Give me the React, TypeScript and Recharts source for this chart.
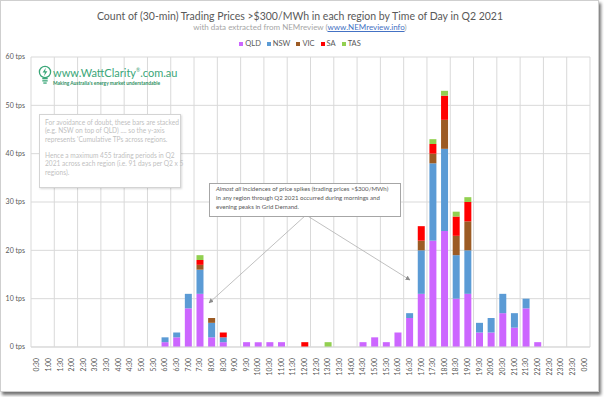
import React from "react";
import { BarChart, Bar, XAxis, YAxis, CartesianGrid, Legend } from "recharts";

const times = [
  "0:30", "1:00", "1:30", "2:00", "2:30", "3:00", "3:30", "4:00", "4:30", "5:00", "5:30", "6:00",
  "6:30", "7:00", "7:30", "8:00", "8:30", "9:00", "9:30", "10:00", "10:30", "11:00", "11:30", "12:00",
  "12:30", "13:00", "13:30", "14:00", "14:30", "15:00", "15:30", "16:00", "16:30", "17:00", "17:30", "18:00",
  "18:30", "19:00", "19:30", "20:00", "20:30", "21:00", "21:30", "22:00", "22:30", "23:00", "23:30", "0:00",
];

const qld = [
  0, 0, 0, 0, 0, 0, 0, 0, 0, 0, 0, 1,
  2, 8, 11, 2, 1, 0, 1, 1, 1, 1, 0, 0,
  0, 0, 0, 0, 1, 2, 1, 3, 6, 11, 22, 24,
  10, 11, 3, 3, 7, 4, 8, 1, 0, 0, 0, 0,
];
const nsw = [
  0, 0, 0, 0, 0, 0, 0, 0, 0, 0, 0, 1,
  1, 3, 5, 3, 1, 0, 0, 0, 0, 0, 0, 0,
  0, 0, 0, 0, 0, 0, 0, 0, 1, 9, 16, 17,
  9, 9, 2, 3, 4, 3, 2, 0, 0, 0, 0, 0,
];
const vic = [
  0, 0, 0, 0, 0, 0, 0, 0, 0, 0, 0, 0,
  0, 0, 1, 1, 0, 0, 0, 0, 0, 0, 0, 0,
  0, 0, 0, 0, 0, 0, 0, 0, 0, 2, 2, 6,
  4, 6, 0, 0, 0, 0, 0, 0, 0, 0, 0, 0,
];
const sa = [
  0, 0, 0, 0, 0, 0, 0, 0, 0, 0, 0, 0,
  0, 0, 1, 0, 1, 0, 0, 0, 0, 0, 0, 1,
  0, 0, 0, 0, 0, 0, 0, 0, 0, 3, 2, 5,
  4, 4, 0, 0, 0, 0, 0, 0, 0, 0, 0, 0,
];
const tas = [
  0, 0, 0, 0, 0, 0, 0, 0, 0, 0, 0, 0,
  0, 0, 1, 0, 0, 0, 0, 0, 0, 0, 0, 0,
  0, 1, 0, 0, 0, 0, 0, 0, 0, 0, 1, 1,
  1, 1, 0, 0, 0, 0, 0, 0, 0, 0, 0, 0,
];

const regions = ["QLD", "NSW", "VIC", "SA", "TAS"];
const colors = ["#cc66ff", "#5b9bd5", "#9c5b24", "#ff0000", "#92d050"];
const yTicks = [0, 10, 20, 30, 40, 50, 60];

const series = [qld, nsw, vic, sa, tas];
const data = times.map((t, i) => {
  const row: Record<string, string | number> = { time: t };
  regions.forEach((r, k) => (row[r] = series[k][i]));
  return row;
});

const font = "Lato, 'Open Sans', sans-serif";
const GRID = "#d9d9d9";

const TimeTick = ({ x, y, payload }: any) => (
  <text
    transform={`translate(${x},${y + 3}) rotate(-90)`}
    textAnchor="end"
    dy="0.35em"
    fontSize={6.8}
    fill="#595959"
    fontFamily={font}
  >
    {payload.value}
  </text>
);

const TpsTick = ({ x, y, payload }: any) => (
  <text x={x} y={y} dy="0.35em" textAnchor="end" fontSize={7} fill="#595959" fontFamily={font}>
    {payload.value} tps
  </text>
);

// keep the legend in series order (QLD first), not alphabetical
const renderLegend = (props: any) => {
  const items = [...props.payload].sort(
    (a: any, b: any) => regions.indexOf(a.value) - regions.indexOf(b.value)
  );
  return (
    <div
      style={{
        display: "flex",
        justifyContent: "center",
        gap: 6,
        fontSize: 7.5,
        color: "#595959",
        fontFamily: font,
        lineHeight: "10px",
      }}
    >
      {items.map((item: any) => (
        <span key={item.value} style={{ display: "flex", alignItems: "center" }}>
          <span style={{ width: 4, height: 4, background: item.color, marginRight: 2 }} />
          {item.value}
        </span>
      ))}
    </div>
  );
};

const Bulb = () => (
  <svg width={14} height={20} style={{ position: "absolute", left: 37, top: 64 }}>
    <circle cx={7} cy={7} r={5.6} fill="none" stroke="#3aa678" strokeWidth={1.3} />
    <polygon points="7.8,2.8 4.6,7.6 6.9,7.6 6.0,11.2 9.4,6.2 7.1,6.2" fill="#3aa678" />
    <rect x={4.3} y={13} width={5.4} height={1.3} fill="#3aa678" />
    <rect x={4.3} y={15.2} width={5.4} height={1.3} fill="#3aa678" />
    <rect x={5.3} y={17.4} width={3.4} height={1.3} fill="#3aa678" />
  </svg>
);

export default function App() {
  return (
    <div
      style={{
        position: "absolute",
        left: 0,
        top: 0,
        width: 597,
        height: 390,
        background: "#fff",
        border: "1px solid #cfcfcf",
        boxShadow: "2px 3px 3px rgba(0,0,0,0.55)",
        fontFamily: font,
      }}
    >
      <div
        style={{
          position: "absolute",
          top: 8,
          left: 0,
          width: 598,
          textAlign: "center",
          fontSize: 10.5,
          lineHeight: "14px",
          color: "#595959",
        }}
      >
        Count of (30-min) Trading Prices &gt;$300/MWh in each region by Time of Day in Q2 2021
      </div>
      <div
        style={{
          position: "absolute",
          top: 21,
          left: 0,
          width: 598,
          textAlign: "center",
          fontSize: 8,
          lineHeight: "10px",
          color: "#a6a6a6",
        }}
      >
        with data extracted from NEMreview (
        <span style={{ color: "#4472c4", textDecoration: "underline" }}>www.NEMreview.info</span>)
      </div>

      <BarChart
        width={598}
        height={392}
        data={data}
        margin={{ top: 56, right: 9, left: 0, bottom: 0 }}
        barCategoryGap="21%"
      >
        <CartesianGrid
          stroke={GRID}
          verticalCoordinatesGenerator={({ offset }: any) =>
            Array.from({ length: 25 }, (_, k) => offset.left + (k * offset.width) / 24)
          }
        />
        <XAxis
          dataKey="time"
          interval={0}
          height={46}
          tick={<TimeTick />}
          tickLine={false}
          axisLine={{ stroke: GRID }}
        />
        <YAxis
          width={30}
          domain={[0, 60]}
          ticks={yTicks}
          tick={<TpsTick />}
          tickLine={false}
          axisLine={false}
          tickSize={0}
          tickMargin={6}
        />
        <Legend
          layout="horizontal"
          verticalAlign="middle"
          align="center"
          content={renderLegend}
          wrapperStyle={{ top: 38, left: 0, width: 598 }}
        />
        {regions.map((r, k) => (
          <Bar key={r} dataKey={r} stackId="a" fill={colors[k]} isAnimationActive={false} />
        ))}
      </BarChart>

      <Bulb />
      <div
        style={{
          position: "absolute",
          left: 52,
          top: 66,
          fontSize: 11,
          lineHeight: "12px",
          color: "#3aa678",
          whiteSpace: "nowrap",
        }}
      >
        www.WattClarity<sup style={{ fontSize: 5, lineHeight: "5px" }}>®</sup>.com.au
      </div>
      <div
        style={{
          position: "absolute",
          left: 52,
          top: 78.5,
          fontSize: 4.9,
          fontWeight: 700,
          lineHeight: "6px",
          color: "#2f8f63",
          whiteSpace: "nowrap",
        }}
      >
        Making Australia's energy market understandable
      </div>

      <div
        style={{
          position: "absolute",
          left: 38,
          top: 113,
          width: 135,
          height: 69,
          padding: "3px 0 0 5px",
          border: "1px solid #d4d4d4",
          background: "#fff",
          boxShadow: "1px 1px 2px rgba(0,0,0,0.15)",
          fontSize: 6.6,
          lineHeight: "8.3px",
          color: "#bfbfbf",
          whiteSpace: "nowrap",
        }}
      >
        For avoidance of doubt, these bars are stacked
        <br />
        (e.g. NSW on top of QLD) .... so the y-axis
        <br />
        represents 'Cumulative TPs across regions.
        <br />
        <br />
        Hence a maximum 455 trading periods in Q2
        <br />
        2021 across each region (i.e. 91 days per Q2 x 5
        <br />
        regions).
      </div>

      <svg width={604} height={397} style={{ position: "absolute", left: 0, top: 0, pointerEvents: "none" }}>
        <defs>
          <marker id="arr" viewBox="0 0 10 10" refX="9" refY="5" markerWidth="6" markerHeight="6" orient="auto">
            <path d="M0,0 L10,5 L0,10 z" fill="#8c8c8c" />
          </marker>
        </defs>
        <line x1={305} y1={214} x2={208} y2={302} stroke="#b0b0b0" strokeWidth={0.8} markerEnd="url(#arr)" />
        <line x1={305} y1={214} x2={409} y2={279} stroke="#b0b0b0" strokeWidth={0.8} markerEnd="url(#arr)" />
      </svg>

      <div
        style={{
          position: "absolute",
          left: 208,
          top: 182,
          width: 184,
          height: 31,
          padding: "1px 0 0 6px",
          border: "1px solid #a6a6a6",
          background: "#fff",
          fontSize: 6.1,
          lineHeight: "8.8px",
          color: "#595959",
          whiteSpace: "nowrap",
        }}
      >
        <i>Almost all</i> incidences of price spikes (trading prices &gt;$300/MWh)
        <br />
        in any region through Q2 2021 occurred during mornings and
        <br />
        evening peaks in Grid Demand.
      </div>
    </div>
  );
}
